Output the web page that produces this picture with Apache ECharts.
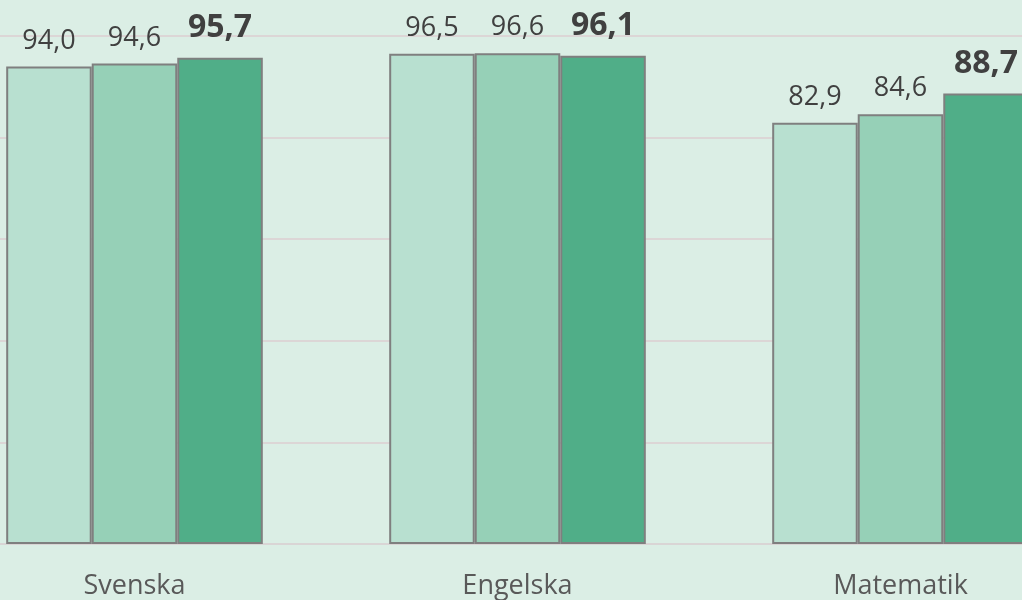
<!DOCTYPE html>
<html><head><meta charset="utf-8">
<script src="https://cdn.jsdelivr.net/npm/echarts@6/dist/echarts.min.js"></script>
<style>html,body{margin:0;padding:0;background:#dbeee5;overflow:hidden;width:1022px;height:600px;position:relative;}
#c{position:absolute;left:-57px;top:0;width:1149px;height:600px;}</style>
</head><body><div id="c"></div>
<script>
const categories = ['Svenska', 'Engelska', 'Matematik'];
const series1 = [94.0, 96.5, 82.9];
const series2 = [94.6, 96.6, 84.6];
const series3 = [95.7, 96.1, 88.7];
const yTicks = [0, 20, 40, 60, 80, 100];

const fmt = p => p.value.toFixed(1).replace('.', ',');
const font = '"Open Sans", "Noto Sans", sans-serif';
function mk(data, color, bold) {
  return {
    type: 'bar', data: data, barGap: '0%', barCategoryGap: '33%',
    itemStyle: { color: color, borderColor: '#7f7f7f', borderWidth: 2 },
    label: {
      show: true, position: 'top', distance: bold ? 14 : 12, formatter: fmt,
      fontFamily: font, fontSize: bold ? 32 : 27, fontWeight: bold ? 'bold' : 'normal',
      color: '#404040'
    }
  };
}
const chart = echarts.init(document.getElementById('c'));
chart.setOption({
  backgroundColor: '#dbeee5',
  animation: false,
  grid: { left: 0, right: 0, top: 36, bottom: 55, containLabel: false },
  xAxis: {
    type: 'category', data: categories,
    axisLine: { show: true, lineStyle: { color: '#d9d5d5', width: 2 } },
    axisTick: { show: false },
    axisLabel: { fontFamily: font, fontSize: 27, color: '#595959', margin: 29 }
  },
  yAxis: {
    type: 'value', min: yTicks[0], max: yTicks[yTicks.length - 1], interval: 20,
    axisLabel: { show: false }, axisLine: { show: false }, axisTick: { show: false },
    splitLine: { lineStyle: { color: '#dcd6d6', width: 2 } }
  },
  series: [mk(series1, '#b8e0d0', false), mk(series2, '#96d0b7', false), mk(series3, '#50ae88', true)]
});
</script></body></html>
